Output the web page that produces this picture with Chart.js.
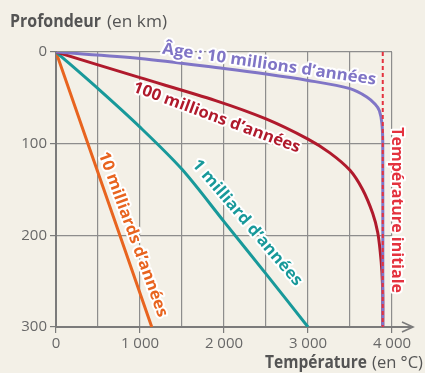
<!DOCTYPE html>
<html lang="fr">
<head>
<meta charset="utf-8">
<title>Profondeur et température</title>
<script src="https://cdn.jsdelivr.net/npm/chart.js@4/dist/chart.umd.min.js"></script>
<style>
  html, body { margin: 0; padding: 0; background: #f3f0e7; }
  #chart { display: block; }
</style>
</head>
<body>
<canvas id="chart" width="425" height="373"></canvas>
<script>
// valeurs : température (°C) en fonction de la profondeur (km)
const tempAge10M = [0, 1000, 2000, 2500, 3000, 3500, 3700, 3800, 3850, 3880, 3890, 3890];
const depthAge10M = [0, 7, 18, 24, 31, 40, 49, 57, 64, 78, 100, 300];

const tempAge100M = [0, 1000, 1900, 2500, 3000, 3260, 3500, 3650, 3770, 3830, 3860, 3880, 3890, 3890];
const depthAge100M = [0, 28, 53, 73, 95, 110, 129, 150, 176, 197, 218, 240, 265, 300];

const tempAge1G = [0, 500, 1000, 1500, 2000, 2500, 3000];
const depthAge1G = [0, 40, 82, 128, 185, 242, 300];

const tempAge10G = [0, 380, 760, 1140];
const depthAge10G = [0, 100, 200, 300];

const tempInitial = [3890, 3890];
const depthInitial = [0, 300];

const curveNames = [
  "Âge : 10 millions d’années",
  "100 millions d’années",
  "1 milliard d’années",
  "10 milliards d’années",
  "Température initiale"
];
const curveColors = ["#8075c6", "#b01a2c", "#18999a", "#e8641f", "#e4323f"];

const xTickValues = [0, 1000, 2000, 3000, 4000];
const yTickValues = [0, 100, 200, 300];

// where each label sits: start / end of its centre line, in data units
const labelPlacement = [
  { from: [1270, -4.5], to: [3810, 29.5] },
  { from: [930, 37], to: [2905, 104] },
  { from: [1665, 119], to: [2905, 252] },
  { from: [570, 109], to: [1285, 288] },
  { from: [4065, 82], to: [4065, 263] }
];

function toPoints(temps, depths) {
  return temps.map((t, i) => ({ x: t, y: depths[i] }));
}

function formatThousands(v) {
  return v >= 1000 ? Math.floor(v / 1000) + " " + String(v % 1000).padStart(3, "0") : String(v);
}

// draws text along a straight line, squeezed to fit between two points
function drawAlong(ctx, text, x0, y0, x1, y1, size, color) {
  const len = Math.hypot(x1 - x0, y1 - y0);
  ctx.save();
  ctx.font = `bold ${size}px "Open Sans"`;
  const w = ctx.measureText(text).width;
  ctx.translate(x0, y0);
  ctx.rotate(Math.atan2(y1 - y0, x1 - x0));
  ctx.scale(len / w, 1);
  ctx.textBaseline = "alphabetic";
  ctx.lineJoin = "round";
  ctx.strokeStyle = "#ffffff";
  ctx.lineWidth = 4;
  ctx.strokeText(text, 0, size * 0.36);
  ctx.fillStyle = color;
  ctx.fillText(text, 0, size * 0.36);
  ctx.restore();
}

function drawFitted(ctx, text, x, y, width, font, color) {
  ctx.save();
  ctx.font = font;
  const w = ctx.measureText(text).width;
  ctx.translate(x, y);
  ctx.scale(width / w, 1);
  ctx.fillStyle = color;
  ctx.textBaseline = "alphabetic";
  ctx.fillText(text, 0, 0);
  ctx.restore();
}

const decorations = {
  id: "decorations",
  afterDatasetsDraw(chart) {
    const { ctx, scales: { x, y }, chartArea: a } = chart;
    ctx.save();
    // arrow continuing the temperature axis
    ctx.strokeStyle = "#7b7b7b";
    ctx.lineWidth = 2;
    ctx.beginPath();
    ctx.moveTo(a.right, a.bottom);
    ctx.lineTo(a.right + 21, a.bottom);
    ctx.stroke();
    ctx.lineWidth = 1.6;
    ctx.beginPath();
    ctx.moveTo(a.right + 10, a.bottom - 5);
    ctx.lineTo(a.right + 21, a.bottom);
    ctx.lineTo(a.right + 10, a.bottom + 5);
    ctx.stroke();
    ctx.restore();

    labelPlacement.forEach((p, i) => {
      drawAlong(ctx, curveNames[i],
        x.getPixelForValue(p.from[0]), y.getPixelForValue(p.from[1]),
        x.getPixelForValue(p.to[0]), y.getPixelForValue(p.to[1]),
        16, curveColors[i]);
    });

    drawFitted(ctx, "Profondeur", 10, 27, 91, 'bold 17px "Open Sans"', "#545454");
    drawFitted(ctx, "(en km)", 107, 27, 60, '17px "Open Sans"', "#545454");
    drawFitted(ctx, "Température", 265, 368, 102, 'bold 17px "Open Sans"', "#545454");
    drawFitted(ctx, "(en °C)", 372, 368, 51, '17px "Open Sans"', "#545454");
  }
};

const lineStyle = { borderWidth: 3, pointRadius: 0, fill: false, tension: 0.3 };

new Chart(document.getElementById("chart"), {
  type: "line",
  data: {
    datasets: [
      { ...lineStyle, data: toPoints(tempInitial, depthInitial), borderColor: curveColors[4], borderWidth: 2, borderDash: [4, 3], tension: 0, order: 0 },
      { ...lineStyle, data: toPoints(tempAge10M, depthAge10M), borderColor: curveColors[0], order: 1 },
      { ...lineStyle, data: toPoints(tempAge100M, depthAge100M), borderColor: curveColors[1], order: 2 },
      { ...lineStyle, data: toPoints(tempAge1G, depthAge1G), borderColor: curveColors[2], order: 3 },
      { ...lineStyle, data: toPoints(tempAge10G, depthAge10G), borderColor: curveColors[3], tension: 0, order: 4 }
    ]
  },
  options: {
    responsive: false,
    animation: false,
    layout: { padding: { left: 0, top: 52, right: 33, bottom: 0 } },
    plugins: { legend: { display: false }, tooltip: { enabled: false } },
    scales: {
      x: {
        type: "linear",
        min: 0,
        max: 4000,
        afterBuildTicks: (scale) => {
          scale.ticks = [];
          for (let v = 0; v <= 4000; v += 500) scale.ticks.push({ value: v });
        },
        afterFit: (scale) => { scale.height = 46; },
        ticks: {
          autoSkip: false,
          maxRotation: 0,
          padding: 2,
          color: "#686868",
          font: { family: "Open Sans", size: 15 },
          callback: (v) => xTickValues.includes(v) ? formatThousands(v) : ""
        },
        grid: {
          color: "#8d8d8d",
          lineWidth: 1.2,
          tickLength: 6,
          tickColor: (c) => c.tick && xTickValues.includes(c.tick.value) ? "#7b7b7b" : "rgba(0,0,0,0)"
        },
        border: { color: "#7b7b7b", width: 2 }
      },
      y: {
        type: "linear",
        reverse: true,
        min: 0,
        max: 300,
        afterBuildTicks: (scale) => { scale.ticks = yTickValues.map(v => ({ value: v })); },
        afterFit: (scale) => { scale.width = 56; },
        ticks: {
          padding: 3,
          color: "#686868",
          font: { family: "Open Sans", size: 15 }
        },
        grid: { color: "#8d8d8d", lineWidth: 1.2, tickLength: 6, tickColor: "#7b7b7b" },
        border: { color: "#7b7b7b", width: 2 }
      }
    }
  },
  plugins: [decorations]
});
</script>
</body>
</html>
